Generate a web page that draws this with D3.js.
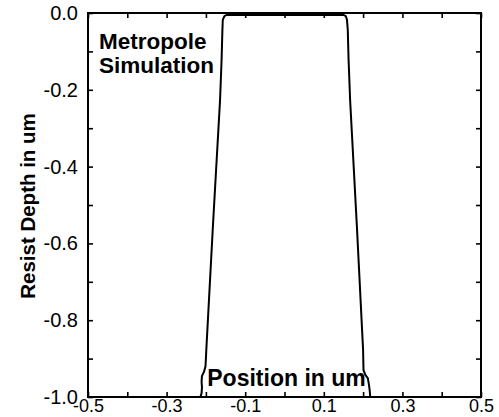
<!DOCTYPE html>
<html>
<head>
<meta charset="utf-8">
<script src="https://cdn.jsdelivr.net/npm/d3@7"></script>
<style>
  body { margin: 0; background: #fff; }
  text { font-family: "Liberation Sans", Arial, sans-serif; fill: #000; }
</style>
</head>
<body>
<div id="chart"></div>
<script>
// resist profile, traced left foot -> top -> right foot
const profileX = [-0.214, -0.211, -0.210, -0.211, -0.210, -0.205, -0.201, -0.200, -0.199,
  -0.182, -0.164, -0.160, -0.158, -0.157, -0.153, -0.147,
  0.150, 0.156, 0.159, 0.161, 0.163, 0.167, 0.184, 0.200, 0.201, 0.206, 0.212, 0.215, 0.217, 0.218]
const profileY = [-1.0, -0.99, -0.975, -0.96, -0.945, -0.935, -0.92, -0.90, -0.878,
  -0.552, -0.227, -0.12, -0.044, -0.018, -0.008, -0.005,
  -0.005, -0.008, -0.018, -0.044, -0.12, -0.227, -0.552, -0.878, -0.93, -0.943, -0.951, -0.969, -0.985, -1.0]

const xTickValues = [-0.5, -0.3, -0.1, 0.1, 0.3, 0.5]
const yTickValues = [0.0, -0.2, -0.4, -0.6, -0.8, -1.0]
const minorStep = 0.1

const titleLines = ["Metropole", "Simulation"]
const xLabel = "Position in um"
const yLabel = "Resist Depth in um"

const width = 499, height = 417
const margin = {top: 13, right: 18, bottom: 20, left: 88}

const x = d3.scaleLinear()
    .domain([-0.5, 0.5])
    .range([margin.left, width - margin.right])

const y = d3.scaleLinear()
    .domain([-1.0, 0.0])
    .range([height - margin.bottom, margin.top])

const fmt = d => d.toFixed(1)

const xMinor = d3.range(-5, 6).map(i => i * minorStep)
const yMinor = d3.range(-10, 1).map(i => i * minorStep)

const svg = d3.select("#chart")
  .append("svg")
    .attr("width", width)
    .attr("height", height)

// inward minor ticks on all four sides
const tick = 5
svg.append("g")
    .attr("transform", `translate(${margin.left},0)`)
    .call(d3.axisLeft(y).tickValues(yMinor).tickSize(-tick).tickFormat(""))
svg.append("g")
    .attr("transform", `translate(${width - margin.right},0)`)
    .call(d3.axisRight(y).tickValues(yMinor).tickSize(-tick).tickFormat(""))
svg.append("g")
    .attr("transform", `translate(0,${margin.top})`)
    .call(d3.axisTop(x).tickValues(xMinor).tickSize(-tick).tickFormat(""))
svg.append("g")
    .attr("transform", `translate(0,${height - margin.bottom})`)
    .call(d3.axisBottom(x).tickValues(xMinor).tickSize(-tick).tickFormat(""))

// labelled axes
svg.append("g")
    .attr("transform", `translate(${margin.left},0)`)
    .call(d3.axisLeft(y).tickValues(yTickValues).tickSize(0).tickPadding(10).tickFormat(fmt))
    .call(g => g.selectAll("text").style("font-size", "20px").attr("font-family", null))

svg.append("g")
    .attr("transform", `translate(0,${height - margin.bottom})`)
    .call(d3.axisBottom(x).tickValues(xTickValues).tickSize(0).tickPadding(2).tickFormat(fmt))
    .call(g => g.selectAll("text").style("font-size", "18px").attr("font-family", null))

svg.selectAll(".domain").remove()
svg.selectAll(".tick line").attr("stroke", "#000").attr("stroke-width", 1.6)

// frame
svg.append("rect")
    .attr("x", margin.left)
    .attr("y", margin.top)
    .attr("width", width - margin.left - margin.right)
    .attr("height", height - margin.top - margin.bottom)
    .attr("fill", "none")
    .attr("stroke", "#000")
    .attr("stroke-width", 2)

const line = d3.line()
    .x((d, i) => x(profileX[i]))
    .y(d => y(d))

svg.append("path")
    .datum(profileY)
    .attr("fill", "none")
    .attr("stroke", "#000")
    .attr("stroke-width", 2)
    .attr("stroke-linejoin", "round")
    .attr("d", line)

svg.append("text")
    .attr("x", 99)
    .attr("y", 49)
    .style("font-size", "22.5px")
    .style("font-weight", "bold")
    .selectAll("tspan")
    .data(titleLines)
    .join("tspan")
      .attr("x", 99)
      .attr("dy", (d, i) => i ? 24 : 0)
      .text(d => d)

svg.append("text")
    .attr("x", x(0) + 2)
    .attr("y", 386)
    .attr("text-anchor", "middle")
    .style("font-size", "23px")
    .style("font-weight", "bold")
    .text(xLabel)

svg.append("text")
    .attr("transform", `translate(35,206) rotate(-90)`)
    .attr("text-anchor", "middle")
    .style("font-size", "20.5px")
    .style("font-weight", "bold")
    .text(yLabel)
</script>
</body>
</html>
